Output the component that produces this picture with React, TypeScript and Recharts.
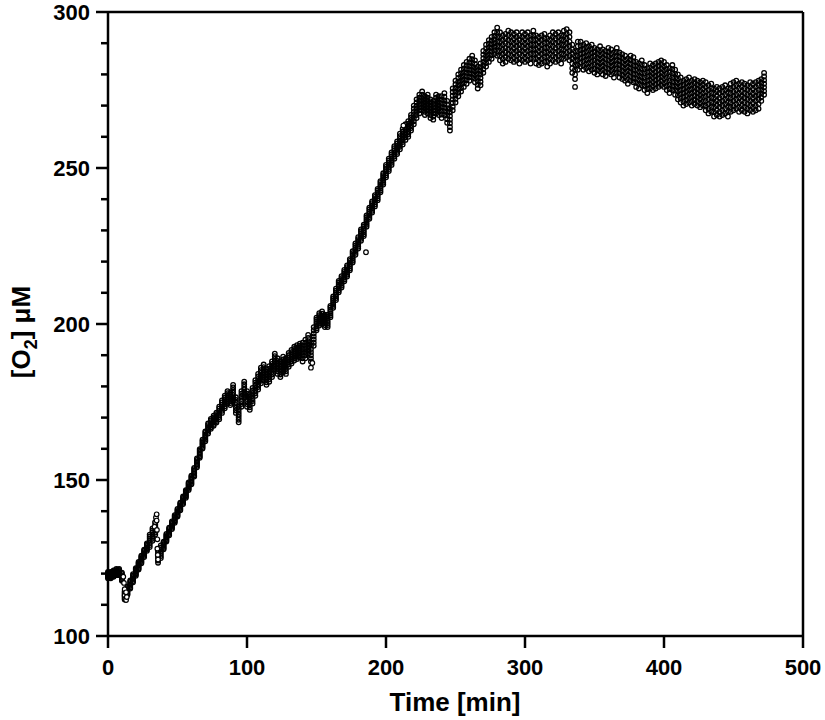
import React from 'react';
import {
  ScatterChart,
  Scatter,
  XAxis,
  YAxis,
  ReferenceLine,
} from 'recharts';

// O2 trace: band centre every 2 min starting at t = 0
const SAMPLE_STEP_MIN = 2;
const o2Center = [
  119.5, 119.5, 120, 120.5, 120.5, 119, 113, 114.5, 116.5, 118.5,
  120.5, 122.5, 124.5, 126.5, 128.5, 130.5, 132.5, 134.5, 125.5, 127,
  129, 131.5, 133.5, 135.5, 137.5, 139.5, 141.5, 143.5, 145.5, 148,
  150, 152.5, 155.5, 158.5, 161.5, 164, 166.5, 168, 169, 170,
  171.5, 173.5, 175, 176.5, 176, 178, 174, 171, 176, 179,
  176, 175, 177, 179.5, 181.5, 183.5, 184.5, 183, 184, 185.5,
  188, 186.5, 185.5, 187, 186.5, 188.5, 189.5, 190.5, 191, 191.5,
  191, 192, 193.5, 191, 196, 200, 201.5, 202, 201, 201,
  204, 207, 209.5, 212, 213.5, 215.5, 217, 219, 221.5, 224,
  226, 228.5, 230, 233, 235.5, 237.5, 239.5, 241.5, 244, 246.5,
  249, 251, 253, 255, 256.5, 258.5, 260, 261.5, 262.5, 264.5,
  267, 269, 270.5, 271.5, 270, 270.5, 269, 268.5, 270.5, 270,
  269.5, 270.5, 268, 265.5, 272, 274.5, 276.5, 278, 279.5, 280.5,
  281.5, 282.5, 281, 279, 280, 284, 286, 287.5, 288.5, 290,
  290.5, 289, 288, 288.5, 289.5, 289, 288.5, 289, 288, 289,
  288.5, 289, 288, 289.5, 288, 287.5, 288, 288.5, 287, 288,
  289, 288.5, 289, 288, 289.5, 290, 289, 285, 283, 286,
  286.5, 285.5, 286, 285, 285.5, 284.5, 284, 285, 284, 283.5,
  284.5, 284, 283, 284.5, 283, 282.5, 282, 281, 282, 281.5,
  280, 279.5, 280.5, 279, 278, 279.5, 279, 279.5, 280, 280.5,
  280, 279, 278, 279, 277.5, 276, 275, 274, 274.5, 275,
  274, 274.5, 274, 273.5, 274, 273, 272, 272.5, 271, 271.5,
  271, 271.5, 272, 271, 272.5, 273, 273.5, 272.5, 273, 272.5,
  272, 273, 272.5, 273, 273.5, 275, 277,
];

// half-width of the scatter band, one value per 10-min block
const o2SpreadPer10Min = [
  1.0, 1.3, 1.2, 2.0, 1.2, 1.2, 1.4, 1.6, 2.0, 2.5,
  2.5, 2.5, 2.5, 2.2, 3.0, 2.0, 1.8, 1.8, 1.8, 1.8,
  2.0, 2.5, 3.0, 3.0, 3.5, 3.5, 3.5, 3.5, 4.5, 4.5,
  4.5, 4.5, 4.5, 4.5, 4.0, 4.0, 4.0, 4.0, 4.0, 4.0,
  4.0, 4.0, 4.0, 4.5, 4.5, 4.5, 4.5, 3.5,
];

// transients and stray points
const extraTimes = [11, 11.5, 12, 12, 12.5, 13, 13.5, 13, 33.5, 34, 34.5, 35, 35, 35.2, 35.5, 35.5, 35.8, 36, 146, 147, 185.6, 212.5, 336];
const extraO2 = [119, 117, 115, 113, 112, 111.5, 112.5, 114, 135, 136.5, 138, 139, 137, 134, 131, 128, 126, 124.5, 186, 187.5, 223, 263.6, 276];

const xTicks = [0, 100, 200, 300, 400, 500];
const yTicks = [100, 110, 120, 130, 140, 150, 160, 170, 180, 190, 200, 210, 220, 230, 240, 250, 260, 270, 280, 290, 300];

const FONT = '"Liberation Sans", Arial, Helvetica, sans-serif';

const bandOffsets = [-1, -0.67, -0.33, 0, 0.33, 0.67, 1];
const bands = bandOffsets.map((k) =>
  o2Center.map((c, i) => {
    const t = i * SAMPLE_STEP_MIN;
    const s = o2SpreadPer10Min[Math.min(Math.floor(t / 10), o2SpreadPer10Min.length - 1)];
    return { t, o2: c + k * s };
  })
);
const extras = extraTimes.map((t, i) => ({ t, o2: extraO2[i] }));

// band points: hollow, so neighbours overlap into a dark trace
const BandCircle = (props: any) => (
  <circle cx={props.cx} cy={props.cy} r={2.3} fill="none" stroke="#000" strokeWidth={1.3} />
);

const OpenCircle = (props: any) => (
  <circle cx={props.cx} cy={props.cy} r={2.3} fill="#fff" stroke="#000" strokeWidth={1.2} />
);

const YTick = ({ x, y, payload }: any) => {
  const major = payload.value % 50 === 0;
  return (
    <g>
      <line x1={x} x2={x - (major ? 12 : 7)} y1={y} y2={y} stroke="#000" strokeWidth={2.5} />
      {major && (
        <text x={x - 18} y={y + 8} textAnchor="end" fontSize={22} fontWeight="bold" fontFamily={FONT} fill="#000">
          {payload.value}
        </text>
      )}
    </g>
  );
};

const XTick = ({ x, y, payload }: any) => (
  <g>
    <line x1={x} x2={x} y1={y} y2={y + 12} stroke="#000" strokeWidth={2.5} />
    <text x={x} y={y + 39} textAnchor="middle" fontSize={22} fontWeight="bold" fontFamily={FONT} fill="#000">
      {payload.value}
    </text>
  </g>
);

export default function App() {
  return (
    <div style={{ position: 'absolute', left: 0, top: 0, width: 825, height: 720, background: '#fff' }}>
      <ScatterChart width={825} height={720} margin={{ top: 12, right: 22, left: 0, bottom: 0 }}>
        <XAxis
          type="number"
          dataKey="t"
          domain={[0, 500]}
          ticks={xTicks}
          height={84}
          tickSize={0}
          tickMargin={0}
          tickLine={false}
          tick={<XTick />}
          axisLine={{ stroke: '#000', strokeWidth: 2.5 }}
        />
        <YAxis
          type="number"
          dataKey="o2"
          domain={[100, 300]}
          ticks={yTicks}
          width={108}
          tickSize={0}
          tickMargin={0}
          tickLine={false}
          tick={<YTick />}
          axisLine={{ stroke: '#000', strokeWidth: 2.5 }}
          interval={0}
        />
        <ReferenceLine y={300} stroke="#000" strokeWidth={2.5} ifOverflow="visible" />
        <ReferenceLine x={500} stroke="#000" strokeWidth={2.5} ifOverflow="visible" />
        {bands.map((d, i) => (
          <Scatter key={i} data={d} shape={BandCircle} isAnimationActive={false} />
        ))}
        <Scatter data={extras} shape={OpenCircle} isAnimationActive={false} />
        <text x={455} y={711} textAnchor="middle" fontSize={26} fontWeight="bold" fontFamily={FONT} fill="#000">
          Time [min]
        </text>
        <text
          transform="translate(30, 332) rotate(-90)"
          textAnchor="middle"
          fontSize={26}
          fontWeight="bold"
          fontFamily={FONT}
          fill="#000"
        >
          [O<tspan fontSize={18} dy={7}>2</tspan>
          <tspan dy={-7}>] μM</tspan>
        </text>
      </ScatterChart>
    </div>
  );
}
